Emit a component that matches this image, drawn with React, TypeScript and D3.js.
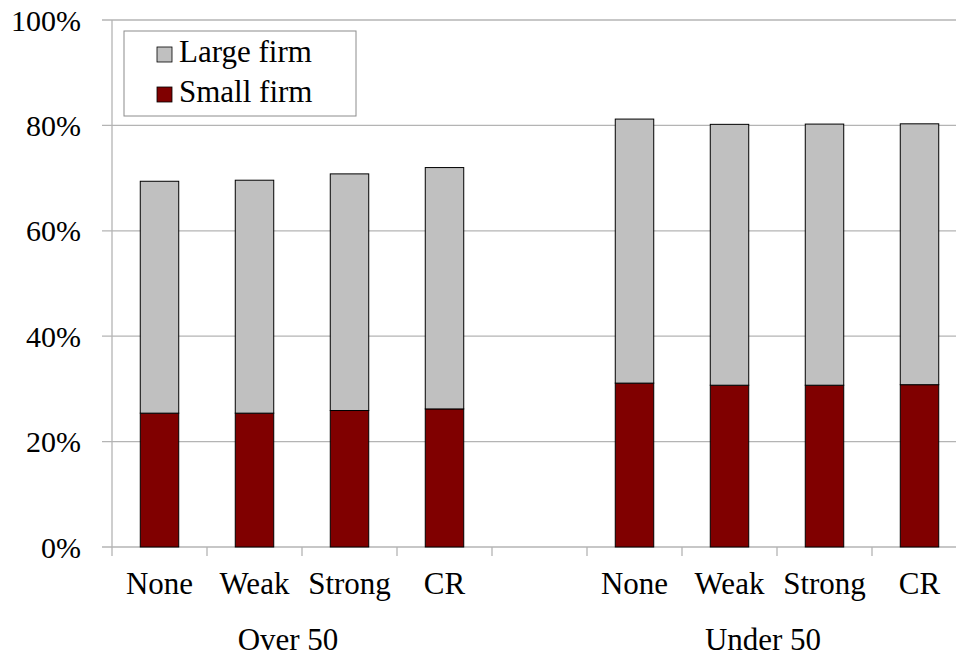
import React from "react";
import * as d3 from "d3";

const groups = ["Over 50", "Under 50"];
const categories = ["None", "Weak", "Strong", "CR"];
const smallFirm = [
  [25.4, 25.4, 25.9, 26.2],
  [31.1, 30.7, 30.7, 30.8],
];
const totalShare = [
  [69.4, 69.6, 70.8, 72.0],
  [81.2, 80.2, 80.25, 80.3],
];
const yTicks = [0, 20, 40, 60, 80, 100];
const seriesNames = ["Large firm", "Small firm"];
const seriesColors = ["#C0C0C0", "#800000"];

type Row = { key: string; label: string; group: number; small: number; large: number };

const rows: Row[] = [];
const slots: string[] = [];
groups.forEach((g, gi) => {
  if (gi > 0) slots.push(`gap${gi}`);
  categories.forEach((c, ci) => {
    const key = `${gi}-${c}`;
    slots.push(key);
    rows.push({
      key,
      label: c,
      group: gi,
      small: smallFirm[gi][ci],
      large: totalShare[gi][ci] - smallFirm[gi][ci],
    });
  });
});

const W = 956;
const H = 656;
const left = 112;
const right = 967;
const top = 20;
const bottom = 547;
const font = '"Times New Roman", "Liberation Serif", Tinos, "DejaVu Serif", serif';

export default function App() {
  const x = d3.scaleBand<string>().domain(slots).range([left, right]).paddingInner(0).paddingOuter(0);
  const y = d3.scaleLinear().domain([0, 100]).range([bottom, top]);
  const bw = x.bandwidth() * 0.405;
  const stack = d3.stack<Row>().keys(["small", "large"])(rows);

  const tickXs = slots.map((s) => x(s)!);
  const ts: React.CSSProperties = { fontFamily: font, fontSize: 31 };
  const ys: React.CSSProperties = { fontFamily: font, fontSize: 30 };

  return (
    <svg width={W} height={H} style={{ position: "absolute", left: 0, top: 0, background: "#fff" }}>
      {yTicks.map((t) => (
        <g key={t}>
          <line x1={left - 10} x2={right} y1={y(t)} y2={y(t)} stroke="#b4b4b4" strokeWidth={1.3} />
          <text x={81} y={y(t)} dy="0.35em" textAnchor="end" style={ys} fill="#000">
            {t}%
          </text>
        </g>
      ))}
      <line x1={left} x2={left} y1={top} y2={bottom} stroke="#b4b4b4" strokeWidth={1.3} />
      {tickXs.map((tx, i) => (
        <line key={i} x1={tx} x2={tx} y1={bottom} y2={bottom + 9} stroke="#b4b4b4" strokeWidth={1.3} />
      ))}
      {stack.map((layer, li) =>
        layer.map((d, i) => {
          const r = rows[i];
          const cx = x(r.key)! + x.bandwidth() / 2;
          return (
            <rect
              key={`${li}-${i}`}
              x={cx - bw / 2}
              y={y(d[1])}
              width={bw}
              height={y(d[0]) - y(d[1])}
              fill={li === 0 ? seriesColors[1] : seriesColors[0]}
              stroke="#000"
              strokeWidth={1}
            />
          );
        })
      )}
      {rows.map((r) => (
        <text key={r.key} x={x(r.key)! + x.bandwidth() / 2} y={594} textAnchor="middle" style={ts}>
          {r.label}
        </text>
      ))}
      {groups.map((g, gi) => {
        const keys = rows.filter((r) => r.group === gi).map((r) => r.key);
        const a = x(keys[0])!;
        const b = x(keys[keys.length - 1])! + x.bandwidth();
        return (
          <text key={g} x={(a + b) / 2 - 14} y={650} textAnchor="middle" style={ts}>
            {g}
          </text>
        );
      })}
      <rect x={124} y={31} width={232} height={85} fill="#fff" stroke="#8c8c8c" strokeWidth={1} />
      {seriesNames.map((n, i) => (
        <g key={n}>
          <rect x={157} y={47 + i * 40} width={15} height={15} fill={seriesColors[i]} stroke="#000" strokeWidth={0.8} />
          <text x={179} y={62 + i * 40} style={ts}>
            {n}
          </text>
        </g>
      ))}
    </svg>
  );
}
